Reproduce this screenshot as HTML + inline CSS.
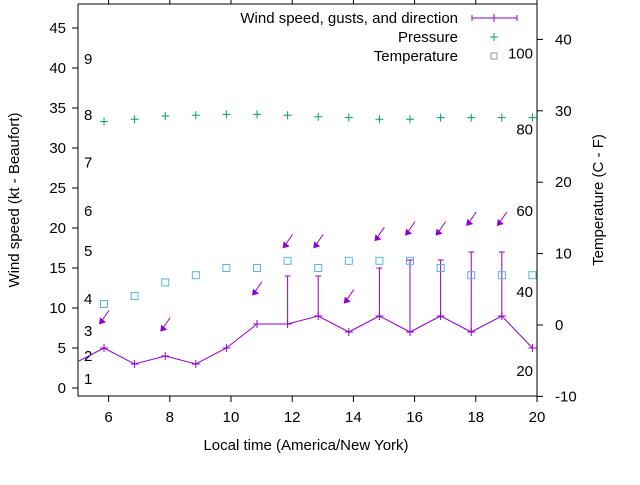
<!DOCTYPE html>
<html><head><meta charset="utf-8"><style>
body{margin:0;background:#fff}
svg text{font-family:"Liberation Sans",Arial,sans-serif;font-size:15px;fill:#000}
</style></head><body>
<svg id="c" width="640" height="480" xmlns="http://www.w3.org/2000/svg"></svg>
<script>
const times=[4.85,5.85,6.85,7.85,8.85,9.85,10.85,11.85,12.85,13.85,14.85,15.85,16.85,17.85,18.85,19.85];
const windSpeed=[3,5,3,4,3,5,8,8,9,7,9,7,9,7,9,5];
const gustTimes=[11.85,12.85,14.85,15.85,16.85,17.85,18.85];
const gustSpeed=[14,14,15,16,16,17,17];
const gustBase=[8,9,9,7,9,7,9];
const pressureTimes=[5.85,6.85,7.85,8.85,9.85,10.85,11.85,12.85,13.85,14.85,15.85,16.85,17.85,18.85,19.85];
const pressure=[33.3,33.6,34,34.1,34.2,34.2,34.1,33.9,33.8,33.6,33.6,33.8,33.8,33.8,33.8];
const temperature=[10.5,11.5,13.2,14.1,15,15,15.9,15,15.9,15.9,15.9,15,14.1,14.1,14.1];
const arrowTimes=[5.85,7.85,10.85,11.85,12.85,13.85,14.85,15.85,16.85,17.85,18.85];
const arrowLevel=[8.7,7.8,12.3,18.2,18.2,11.3,19.1,19.8,19.8,21,21];
const xTicks=[6,8,10,12,14,16,18,20];
const yTicks=[0,5,10,15,20,25,30,35,40,45];
const y2Ticks=[-10,0,10,20,30,40];
const beaufortLabels=["1","2","3","4","5","6","7","8","9"];
const beaufortY=[1.1,4,7.1,11.1,17.1,22.1,28.2,34.1,41.1];
const fLabels=["20","40","60","80","100"];
const fY=[2.1,12,22.1,32.3,41.8];

const L=78,R=537,T=4,B=396;
const X=t=>L+(t-5)*(R-L)/15;
const Y=v=>388-v*8;
const Y2=v=>325-v*7.14;
const s=document.getElementById('c');
const NS='http://www.w3.org/2000/svg';
function mk(tag,a,parent){const e=document.createElementNS(NS,tag);for(const k in a)e.setAttribute(k,a[k]);(parent||s).appendChild(e);return e;}
function txt(x,y,t,anchor){const e=mk('text',{x:x,y:y,'text-anchor':anchor||'start'});e.textContent=t;return e;}

// axes
let e=mk('path',{d:`M${L} ${T}V${B}H${R}V${T}H${L}`,fill:'none',stroke:'#000','stroke-width':1});


yTicks.forEach(v=>{mk('line',{x1:L-6,x2:L,y1:Y(v),y2:Y(v),stroke:'#000'});
 const t=txt(L-12,Y(v)+5,String(v),'end');
 
 });
xTicks.forEach(v=>{mk('line',{x1:X(v),x2:X(v),y1:B,y2:B+6,stroke:'#000'});
 mk('line',{x1:X(v),x2:X(v),y1:T,y2:T-6,stroke:'#000'});
 const t=txt(X(v),B+26,String(v),'middle');
 
 });
y2Ticks.forEach(v=>{mk('line',{x1:R,x2:R+6,y1:Y2(v),y2:Y2(v),stroke:'#000'});
 const t=txt(R+18,Y2(v)+5,String(v),'start');
 
 });
beaufortLabels.forEach((b,i)=>{const t=txt(84,Y(beaufortY[i])+5,b);
 
 });
fLabels.forEach((b,i)=>{const t=txt(533,Y(fY[i])+5,b,'end');
 
 });

// titles
e=txt(306,450,'Local time (America/New\u2009\u0059 ork)','middle');
e.textContent='Local time (America/New\u1d67ork)';e.textContent='Local time (America/New York)';


e=mk('text',{x:0,y:0,'text-anchor':'middle',transform:'translate(19,200) rotate(-90)'});e.textContent='Wind speed (kt - Beaufort)';


e=mk('text',{x:0,y:0,'text-anchor':'middle',transform:'translate(603,200) rotate(-90)'});e.textContent='Temperature (C - F)';



const g=mk('g',{'clip-path':'url(#cp)'});
const cp=mk('clipPath',{id:'cp'});mk('rect',{x:L,y:T,width:R-L,height:B-T},cp);
const P='#9400d3';
// wind line
e=mk('polyline',{points:times.map((t,i)=>X(t)+','+Y(windSpeed[i])).join(' '),fill:'none',stroke:P,'stroke-width':1},g);


times.forEach((t,i)=>{const x=X(t),y=Y(windSpeed[i]);const p=mk('path',{d:`M${x-4} ${y}h8M${x} ${y-4}v8`,stroke:P},g);
 
 });
gustTimes.forEach((t,i)=>{const x=X(t);const p=mk('path',{d:`M${x} ${Y(gustBase[i])}V${Y(gustSpeed[i])}M${x-3} ${Y(gustSpeed[i])}h6`,stroke:P},g);
 
 });
// arrows
arrowTimes.forEach((t,i)=>{const x=X(t),y=Y(arrowLevel[i]);
 const a=mk('g',{},g);
 
 
 mk('line',{x1:x+5,y1:y-8,x2:x-4,y2:y+5,stroke:P},a);
 mk('path',{d:`M${x-5} ${y+6}l1 -7l6 5z`,fill:P},a);});
// pressure
pressureTimes.forEach((t,i)=>{const x=X(t),y=Y(pressure[i]);const p=mk('path',{d:`M${x-4} ${y}h8M${x} ${y-4}v8`,stroke:'#009e73'},g);
 
 });
// temperature
pressureTimes.forEach((t,i)=>{const x=X(t),y=Y(temperature[i]);const p=mk('rect',{x:x-3.5,y:y-3.5,width:7,height:7,fill:'none',stroke:'#56b4e9'},g);
 
 });

// legend
const lg=mk('g',{});


txt(458,23,'Wind speed, gusts, and direction','end');
mk('path',{d:'M472 18H517M472 15v6M517 15v6M494 14v8',stroke:P},lg);
txt(458,42,'Pressure','end');
mk('path',{d:'M490 37h8M494 33v8',stroke:'#009e73'},lg);
txt(458,61,'Temperature','end');
mk('rect',{x:491,y:53,width:6,height:6,fill:'none',stroke:'#999'},lg);
</script>
</body></html>
